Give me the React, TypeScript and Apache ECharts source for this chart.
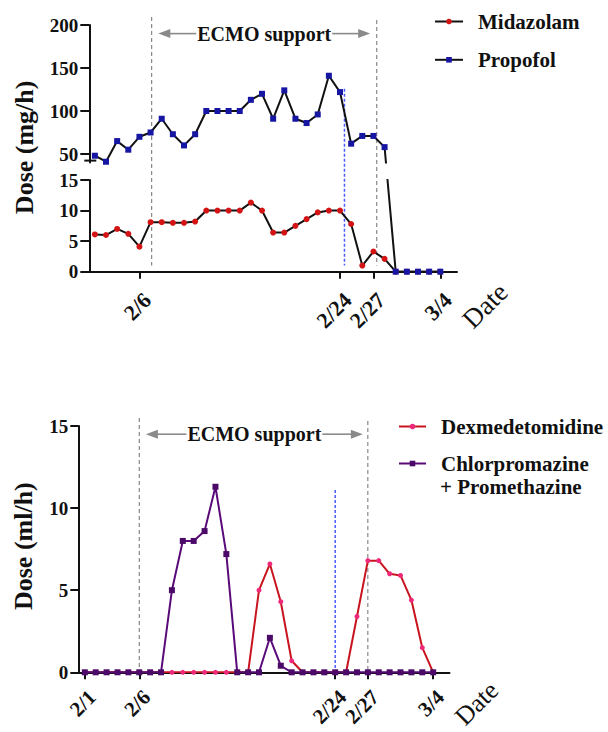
import React, { useEffect, useRef } from "react";
import * as echarts from "echarts";

const FONT = '"Liberation Serif", "Times New Roman", Times, serif';
const INK = "#111111";

// ---- data ----
const dates = [
  "2/1", "2/2", "2/3", "2/4", "2/5", "2/6", "2/7", "2/8", "2/9", "2/10", "2/11",
  "2/12", "2/13", "2/14", "2/15", "2/16", "2/17", "2/18", "2/19", "2/20", "2/21",
  "2/22", "2/23", "2/24", "2/25", "2/26", "2/27", "2/28", "2/29", "3/1", "3/2", "3/3", "3/4",
];
const topTickDates = ["2/6", "2/24", "2/27", "3/4"];
const bottomTickDates = ["2/1", "2/6", "2/24", "2/27", "3/4"];
const topFirstDate = "2/2";

// mg/h, from 2/2 to 3/4
const midazolam = [
  6.1, 6.0, 7.0, 6.2, 4.1, 8.1, 8.1, 8.0, 8.0, 8.2, 10, 10, 10, 10, 11.3, 10,
  6.4, 6.4, 7.5, 8.6, 9.7, 10, 10, 7.8, 1.0, 3.3, 2.1, 0, 0, 0, 0, 0,
];
const propofol = [
  48, 41, 65, 55, 70, 75, 91, 73, 60, 73, 100, 100, 100, 100, 113, 120,
  91, 124, 91, 86, 96, 141, 122, 62, 71, 71, 58, 0, 0, 0, 0, 0,
];
// ml/h, from 2/1 to 3/4
const dexmedetomidine = [
  0, 0, 0, 0, 0, 0, 0, 0, 0, 0, 0, 0, 0, 0, 0, 0,
  5.0, 6.6, 4.3, 0.7, 0, 0, 0, 0, 0, 3.4, 6.8, 6.8, 6.0, 5.9, 4.4, 1.5, 0,
];
const chlorpromazine = [
  0, 0, 0, 0, 0, 0, 0, 0, 5.0, 8.0, 8.0, 8.6, 11.3, 7.2, 0, 0, 0, 2.1, 0.4,
  0, 0, 0, 0, 0, 0, 0, 0, 0, 0, 0, 0, 0, 0,
];

const upperTicks = [50, 100, 150, 200];
const upperRange = [40, 200];
const lowerRange = [0, 15];
const mlRange = [0, 15];
const xRangeTop = [0.5, 33.5];
const xRangeBottom = [-0.6, 33.5];

// annotations (in day units / axis values)
const topEcmoMarks = [6.1, 26.3];
const bottomEcmoDates = ["2/6", "2/27"];
const topBlueMark = { x: 23.4, from: 126, to: 1 };
const bottomBlueMark = { date: "2/24", from: 11.1, to: 0 };

const C = {
  mid: "#d41414",
  prop: "#1616a2",
  dexLine: "#c8141e",
  dexDot: "#f0287a",
  chlLine: "#5a0a78",
  chlDot: "#4b0a68",
  ecmo: "#8a8a8a",
  dash: "#707070",
  blue: "#4a5cff",
};

const LEGEND_FS = 21;

const xOf = (d: string) => dates.indexOf(d);

function xAxisDef(gridIndex: number, range: number[], ticks: string[] | null, margin: number, fontSize: number) {
  const vals = ticks ? ticks.map(xOf) : [];
  return {
    type: "value",
    gridIndex,
    min: range[0],
    max: range[1],
    show: !!ticks,
    axisLine: { show: true, onZero: false, lineStyle: { color: INK, width: 2 } },
    axisTick: { show: true, customValues: vals, length: 7, lineStyle: { color: INK, width: 2 } },
    axisLabel: {
      show: true,
      customValues: vals,
      rotate: 45,
      margin,
      verticalAlign: "top",
      hideOverlap: false,
      fontFamily: FONT,
      fontWeight: "bold",
      fontSize,
      color: INK,
      formatter: (v: number) => dates[Math.round(v)] ?? "",
    },
    splitLine: { show: false },
  };
}

function yAxisDef(gridIndex: number, range: number[], ticks: number[] | null, interval: number | null, tickLen: number, margin: number) {
  const ax: any = {
    type: "value",
    gridIndex,
    min: range[0],
    max: range[1],
    axisLine: { show: true, onZero: false, lineStyle: { color: INK, width: 2 } },
    axisTick: { show: true, length: tickLen, lineStyle: { color: INK, width: 2 } },
    axisLabel: {
      show: true,
      margin,
      fontFamily: FONT,
      fontWeight: "bold",
      fontSize: 19,
      color: INK,
    },
    splitLine: { show: false },
  };
  if (ticks) {
    ax.axisTick.customValues = ticks;
    ax.axisLabel.customValues = ticks;
  }
  if (interval) ax.interval = interval;
  return ax;
}

function buildOption(ph: { upper: number; lower: number } | null, graphics: any[]) {
  const t0 = xOf(topFirstDate);
  const split = propofol.findIndex((v) => v < upperRange[0]);
  const propUpper: any[] = propofol.slice(0, split).map((v, i) => [t0 + i, v]);
  const propLower: any[] = propofol.slice(split).map((v, i) => [t0 + split + i, v]);
  if (ph) {
    propUpper.push({ value: [t0 + split, ph.upper], symbol: "none" });
    propLower.unshift({ value: [t0 + split - 1, ph.lower], symbol: "none" });
  }
  const base = {
    type: "line",
    symbolSize: 6,
    showSymbol: true,
    clip: true,
    animation: false,
    emphasis: { disabled: true },
  };
  const legendText = {
    fontFamily: FONT,
    fontWeight: "bold",
    fontSize: LEGEND_FS,
    lineHeight: 20,
    color: INK,
    padding: [0, 0, 0, 10],
  };
  return {
    animation: false,
    backgroundColor: "#ffffff",
    textStyle: { fontFamily: FONT },
    grid: [
      { left: 89.3, right: 151, top: 25, height: 137.6, containLabel: false, outerBoundsMode: "none" },
      { left: 89.3, right: 151, top: 180, height: 91.7, containLabel: false, outerBoundsMode: "none" },
      { left: 78.3, right: 158.5, top: 426, height: 246.3, containLabel: false, outerBoundsMode: "none" },
    ],
    xAxis: [
      xAxisDef(0, xRangeTop, null, 0, 22),
      xAxisDef(1, xRangeTop, topTickDates, 17, 22),
      xAxisDef(2, xRangeBottom, bottomTickDates, 14, 21),
    ],
    yAxis: [
      yAxisDef(0, upperRange, upperTicks, null, 9, 11),
      yAxisDef(1, lowerRange, null, 5, 9, 11),
      yAxisDef(2, mlRange, null, 5, 8, 10),
    ],
    legend: [
      {
        orient: "vertical",
        left: 434,
        top: 11,
        padding: 0,
        itemWidth: 28,
        itemHeight: 7,
        itemGap: 17.3,
        selectedMode: false,
        textStyle: legendText,
        data: [
          { name: "Midazolam", itemStyle: { color: C.mid, borderWidth: 0 }, lineStyle: { color: INK, width: 2 } },
          { name: "Propofol", itemStyle: { color: C.prop, borderWidth: 0 }, lineStyle: { color: INK, width: 2 } },
        ],
      },
      {
        orient: "vertical",
        left: 398,
        top: 416,
        padding: 0,
        itemWidth: 27,
        itemHeight: 7,
        itemGap: 16,
        selectedMode: false,
        textStyle: legendText,
        formatter: (n: string) => (n === "Chlorpromazine + Promethazine" ? "Chlorpromazine" : n),
        data: [
          { name: "Dexmedetomidine", itemStyle: { color: C.dexDot, borderWidth: 0 }, lineStyle: { color: C.dexLine, width: 2 } },
          { name: "Chlorpromazine + Promethazine", itemStyle: { color: C.chlDot, borderWidth: 0 }, lineStyle: { color: C.chlLine, width: 2 } },
        ],
      },
    ],
    series: [
      {
        ...base,
        name: "Midazolam",
        xAxisIndex: 1,
        yAxisIndex: 1,
        symbol: "circle",
        lineStyle: { color: INK, width: 2 },
        itemStyle: { color: C.mid, borderWidth: 0 },
        data: midazolam.map((v, i) => [t0 + i, v]),
      },
      {
        ...base,
        name: "Propofol",
        xAxisIndex: 0,
        yAxisIndex: 0,
        symbol: "rect",
        lineStyle: { color: INK, width: 2 },
        itemStyle: { color: C.prop, borderWidth: 0 },
        data: propUpper,
      },
      {
        ...base,
        name: "Propofol",
        xAxisIndex: 1,
        yAxisIndex: 1,
        symbol: "rect",
        lineStyle: { color: INK, width: 2 },
        itemStyle: { color: C.prop, borderWidth: 0 },
        data: propLower,
      },
      {
        ...base,
        name: "Dexmedetomidine",
        xAxisIndex: 2,
        yAxisIndex: 2,
        symbol: "circle",
        symbolSize: 5,
        lineStyle: { color: C.dexLine, width: 2 },
        itemStyle: { color: C.dexDot, borderWidth: 0 },
        data: dexmedetomidine.map((v, i) => [i, v]),
      },
      {
        ...base,
        name: "Chlorpromazine + Promethazine",
        xAxisIndex: 2,
        yAxisIndex: 2,
        symbol: "rect",
        symbolSize: 6,
        lineStyle: { color: C.chlLine, width: 2 },
        itemStyle: { color: C.chlDot, borderWidth: 0 },
        data: chlorpromazine.map((v, i) => [i, v]),
      },
    ],
    graphic: graphics,
  };
}

function measure(text: string, font: string) {
  const cv = document.createElement("canvas");
  const ctx = cv.getContext("2d");
  if (!ctx) return text.length * 10;
  ctx.font = font;
  return ctx.measureText(text).width;
}

function textEl(text: string, x: number, y: number, font: string, align: string, rotation = 0) {
  return {
    type: "text",
    x,
    y,
    rotation,
    silent: true,
    z: 10,
    style: {
      text,
      font,
      fill: INK,
      align,
      verticalAlign: "middle",
      textAlign: align,
      textVerticalAlign: "middle",
    },
  };
}

function buildGraphics(chart: any) {
  const P = (i: number, x: number, y: number) =>
    chart.convertToPixel({ xAxisIndex: i, yAxisIndex: i }, [x, y]) as number[];
  const g: any[] = [];
  const vline = (x: number, y1: number, y2: number, stroke: string, w: number, dash: number[]) => ({
    type: "line",
    silent: true,
    z: 0,
    shape: { x1: x, y1, x2: x, y2 },
    style: { stroke, lineWidth: w, lineDash: dash },
  });
  const ecmoFont = `bold 20px ${FONT}`;
  const arrow = (xl: number, xr: number, y: number) => {
    const w = measure("ECMO support", ecmoFont);
    const mid = (xl + xr) / 2;
    const a = 12;
    const h = 4.5;
    g.push({ type: "line", silent: true, shape: { x1: xl + a - 1, y1: y, x2: mid - w / 2 - 1, y2: y }, style: { stroke: C.ecmo, lineWidth: 1.6 } });
    g.push({ type: "line", silent: true, shape: { x1: mid + w / 2 + 1, y1: y, x2: xr - a + 1, y2: y }, style: { stroke: C.ecmo, lineWidth: 1.6 } });
    g.push({ type: "polygon", silent: true, shape: { points: [[xl, y], [xl + a, y - h], [xl + a, y + h]] }, style: { fill: C.ecmo } });
    g.push({ type: "polygon", silent: true, shape: { points: [[xr, y], [xr - a, y - h], [xr - a, y + h]] }, style: { fill: C.ecmo } });
    g.push(textEl("ECMO support", mid, y, ecmoFont, "center"));
  };

  // ---- top panel ----
  const topY0 = P(0, xRangeTop[0], upperRange[1]);
  const topYBottom = P(1, xRangeTop[0], lowerRange[0]);
  const topMarkX = topEcmoMarks.map((d) => P(1, d, 0)[0]);
  const lowEnd = P(1, 0, 1)[1];
  g.push(vline(topMarkX[0], topY0[1] - 8, lowEnd, C.dash, 1, [4, 3]));
  g.push(vline(topMarkX[1], topY0[1] - 5, lowEnd, C.dash, 1, [4, 3]));
  const bx = P(1, topBlueMark.x, 0)[0];
  g.push(vline(bx, P(0, topBlueMark.x, topBlueMark.from)[1], P(1, topBlueMark.x, topBlueMark.to)[1], C.blue, 1.5, [3, 2]));
  arrow(topMarkX[0] + 6.6, topMarkX[1] - 6.6, P(0, 0, 190)[1]);
  // axis break mark
  const brk = P(0, xRangeTop[0], upperRange[0]);
  g.push({ type: "line", silent: true, shape: { x1: brk[0] - 5, y1: brk[1] - 2, x2: brk[0] + 7, y2: brk[1] - 2 }, style: { stroke: INK, lineWidth: 2 } });
  // titles
  g.push(textEl("Dose (mg/h)", 24, (topY0[1] + topYBottom[1]) / 2 - 1, `bold 26px ${FONT}`, "center", Math.PI / 2));
  const topEnd = P(1, xRangeTop[1], 0);
  g.push(textEl("Date", topEnd[0] + 28, topEnd[1] + 34, `27px ${FONT}`, "center", Math.PI / 4));

  // ---- bottom panel ----
  const bTop = P(2, 0, mlRange[1])[1];
  const bBot = P(2, 0, 0)[1];
  const bMarkX = bottomEcmoDates.map((d) => P(2, xOf(d), 0)[0]);
  g.push(vline(bMarkX[0], bTop - 8, bBot, C.dash, 1, [4, 3]));
  g.push(vline(bMarkX[1], bTop - 5, bBot, C.dash, 1, [4, 3]));
  const bbx = P(2, xOf(bottomBlueMark.date), 0)[0];
  g.push(vline(bbx, P(2, 0, bottomBlueMark.from)[1], P(2, 0, bottomBlueMark.to)[1], C.blue, 1.5, [3, 2]));
  arrow(bMarkX[0] + 6.6, bMarkX[1] - 5, P(2, 0, 14.5)[1]);
  g.push(textEl("Dose (ml/h)", 23, (bTop + bBot) / 2 - 3, `bold 26px ${FONT}`, "center", Math.PI / 2));
  const bEnd = P(2, xRangeBottom[1], 0);
  g.push(textEl("Date", bEnd[0] + 27, bEnd[1] + 31, `26px ${FONT}`, "center", Math.PI / 4));
  // second line of the legend label
  g.push(textEl("+ Promethazine", 398 + 27 + 5 + 10, 416 + 20 + 16 + 10 + 24.5, `bold ${LEGEND_FS}px ${FONT}`, "left"));
  return g;
}

export default function App() {
  const ref = useRef<HTMLDivElement>(null);
  useEffect(() => {
    if (!ref.current) return;
    const chart = echarts.init(ref.current, null, { renderer: "svg" });
    chart.setOption(buildOption(null, []) as any);
    const t0 = xOf(topFirstDate);
    const split = propofol.findIndex((v) => v < upperRange[0]);
    const pPrev = chart.convertToPixel({ xAxisIndex: 0, yAxisIndex: 0 }, [t0 + split - 1, propofol[split - 1]]) as number[];
    const pNext = chart.convertToPixel({ xAxisIndex: 1, yAxisIndex: 1 }, [t0 + split, propofol[split]]) as number[];
    const upper = (chart.convertFromPixel({ xAxisIndex: 0, yAxisIndex: 0 }, pNext) as number[])[1];
    const lower = (chart.convertFromPixel({ xAxisIndex: 1, yAxisIndex: 1 }, pPrev) as number[])[1];
    const graphics = buildGraphics(chart);
    chart.setOption(buildOption({ upper, lower }, graphics) as any, true);
    return () => chart.dispose();
  }, []);
  return (
    <div
      ref={ref}
      style={{ position: "absolute", left: 0, top: 0, width: 608, height: 732, background: "#fff" }}
    />
  );
}
